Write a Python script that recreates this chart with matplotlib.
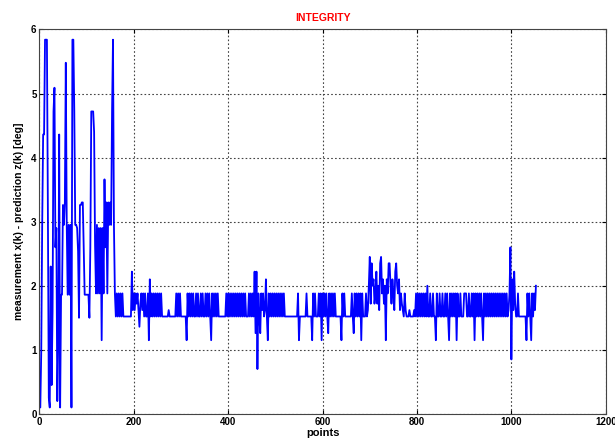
import numpy as np
import matplotlib
matplotlib.use("Agg")
import matplotlib.pyplot as plt

plt.rcParams["font.family"] = ["Liberation Sans", "DejaVu Sans"]

# samples 0..158, one value for every 2 points
early_vals = [
    0.10, 0.10, 0.97, 2.95, 4.36, 4.36, 5.84, 5.84, 5.84, 3.26,
    0.25, 0.10, 2.30, 0.45, 1.60, 4.72, 5.09, 2.60, 2.90, 0.20,
    1.13, 4.36, 0.10, 1.86, 1.86, 3.26, 2.95, 3.30, 5.48, 2.95,
    1.86, 2.95, 1.86, 2.95, 0.10, 5.84, 5.84, 4.72, 2.95, 2.95,
    2.90, 2.54, 1.50, 3.26, 3.26, 3.30, 3.30, 2.60, 1.86, 1.86,
    1.86, 1.86, 1.86, 1.50, 2.60, 4.72, 4.72, 4.72, 4.40, 2.64,
    1.88, 2.95, 1.88, 2.90, 1.88, 2.90, 1.15, 2.90, 1.88, 3.66,
    2.60, 3.30, 1.88, 3.30, 2.95, 3.30, 2.95, 4.72, 5.84, 2.95,
]

# samples 160..1052, one level code for every 2 points
level_map = {
    "b": 1.52, "h": 1.88, "l": 1.15, "k": 1.26, "c": 1.36,
    "m": 1.62, "n": 1.72, "p": 2.00, "q": 2.10, "r": 2.22,
    "s": 2.35, "t": 2.45, "u": 2.60, "d": 0.70, "e": 0.85,
}
late_codes = (
    "hbhbhbhbh" "bbbbbbbbb" "rmhmhnhmcnhmhbhb" "bhlqbhbhbhbhbhbh"
    "bbbbbbb" "mbbbbbbb" "hbhbhb" "bbbbb" "lhbhb" "hbhbbhbhbbhbhbbhbhb"
    "hblhbhbhbh" "bbbbbbbb" "hbhbhb" "hbhbhbhbhbhbhbhb" "bb" "hbhbhb" "rk"
    "rdhbkhmhbmqblh" "bhbhbhbhbhbhbhbh" "bbbbbbbbbbbbbb" "hlbbbb"
    "bbbhbbbbblhbhbbbhbhl" "hbhbhbkhbhbhbhb" "bbbbb" "lhbhb" "bbbbb"
    "bhbkhbhbhbhlhb" "bbhbm" "ptnspqnhrnpmsthqnplqhsspnqhmrsp"
    "hqmhnmbhmb" "bbmbbbbmb" "hbhbhbhbhbhbp" "bbhbbhbblhbbhbbhbb"
    "hbhblhbhbhbhlhbb" "hbbbhhhbbhbbhbhlhbhbhbhblhbhbhbhbh"
    "bhbhbhbhbhbhbhbhbmhueqmrnbbhbbbbbbbblhbhblhbhmp"
)
sample_step = 2

x_ticks = [0, 200, 400, 600, 800, 1000, 1200]
y_ticks = [0, 1, 2, 3, 4, 5, 6]

values = np.array(early_vals + [level_map[c] for c in late_codes])
points = np.arange(len(values)) * sample_step

fig = plt.figure(figsize=(6.15, 4.46), dpi=100)
ax = fig.add_axes([0.064, 0.072, 0.921, 0.862])

ax.plot(points, values, color="#0000FF", lw=1.3)

ax.set_xlim(0, 1200)
ax.set_ylim(0, 6)
ax.set_xticks(x_ticks)
ax.set_yticks(y_ticks)
ax.tick_params(direction="in", top=True, right=True, length=3,
               labelsize=7, pad=2)
for t in ax.get_xticklabels() + ax.get_yticklabels():
    t.set_fontweight("bold")
ax.grid(True, linestyle=(0, (1.5, 2)), color="#444444", lw=0.8)
for s in ax.spines.values():
    s.set_color("#444444")

ax.set_title("INTEGRITY", color="red", fontsize=7.5, fontweight="bold", pad=6)
ax.set_xlabel("points", fontsize=8, fontweight="bold", labelpad=1)
ax.set_ylabel("measurement x(k) - prediction z(k) [deg]", fontsize=7.5,
              fontweight="bold", labelpad=5)

fig.savefig("out.png", dpi=100)
